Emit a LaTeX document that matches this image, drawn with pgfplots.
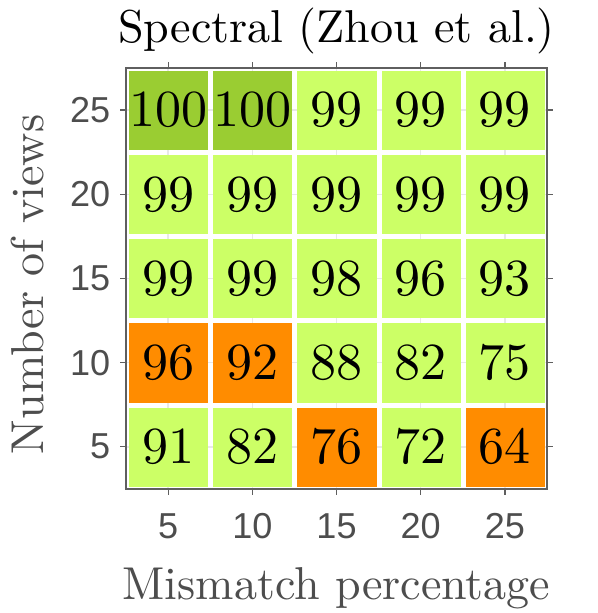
\documentclass[border=0pt]{standalone}
\usepackage{fontspec}
\setmainfont{lmroman10-regular}[Extension=.otf]
\setsansfont{Liberation Sans}
\usepackage{pgfplots}
\pgfplotsset{compat=1.18}
\definecolor{lg}{RGB}{204,255,102}
\definecolor{dg}{RGB}{154,205,50}
\definecolor{og}{RGB}{255,140,0}
\definecolor{tc}{RGB}{77,77,77}
\definecolor{ax}{RGB}{95,95,95}

\begin{document}
\begin{tikzpicture}
\begin{axis}[
  scale only axis, width=210pt, height=210pt,
  xmin=2.5, xmax=27.5, ymin=2.5, ymax=27.5,
  xtick={5,10,15,20,25}, ytick={5,10,15,20,25},
  tick align=outside, tick pos=both, major tick length=3pt,
  axis line style={draw=ax, line width=0.9pt},
  tick style={draw=ax, line width=0.7pt},
  grid=major, grid style={draw=black!9, line width=0.8pt},
  /pgf/number format/assume math mode=true,
  ticklabel style={font=\sffamily\fontsize{18}{20}\selectfont, text=tc},
  xticklabel style={anchor=base, yshift=-22pt},
  yticklabel style={anchor=east, xshift=-1.5pt},
  title={Spectral (Zhou et al.)},
  title style={font=\fontsize{23}{26}\selectfont, text=black, at={(axis description cs:0.5,1.033)}, anchor=base},
  xlabel={Mismatch percentage},
  xlabel style={font=\fontsize{23}{26}\selectfont, text=tc, at={(axis description cs:0.5,-0.262)}, anchor=base},
  ylabel={Number of views},
  ylabel style={font=\fontsize{23}{26}\selectfont, text=tc, at={(axis description cs:-0.1976,0.486)}, anchor=base, rotate=0},
  point meta=explicit,
  nodes near coords={\pgfmathprintnumber{\pgfplotspointmeta}},
  every node near coord/.style={anchor=center, font=\fontsize{26}{30}\selectfont, text=black},
]
\addplot[only marks, mark=square*, mark size=19.5pt, color=lg, mark options={draw=lg, fill=lg, line width=0.1pt}] table[meta=v] {
x y v
15 25 99
20 25 99
25 25 99
5 20 99
10 20 99
15 20 99
20 20 99
25 20 99
5 15 99
10 15 99
15 15 98
20 15 96
25 15 93
15 10 88
20 10 82
25 10 75
5 5 91
10 5 82
20 5 72
};
\addplot[only marks, mark=square*, mark size=19.5pt, color=dg, mark options={draw=dg, fill=dg, line width=0.1pt}] table[meta=v] {
x y v
5 25 100
10 25 100
};
\addplot[only marks, mark=square*, mark size=19.5pt, color=og, mark options={draw=og, fill=og, line width=0.1pt}] table[meta=v] {
x y v
5 10 96
10 10 92
15 5 76
25 5 64
};
\coordinate (bl) at (rel axis cs:0,0);
\coordinate (tr) at (rel axis cs:1,1);
\end{axis}
\pgfresetboundingbox
\path ([shift={(-63pt,-62pt)}]bl) rectangle ([shift={(25.5pt,34pt)}]tr);
\end{tikzpicture}
\end{document}
